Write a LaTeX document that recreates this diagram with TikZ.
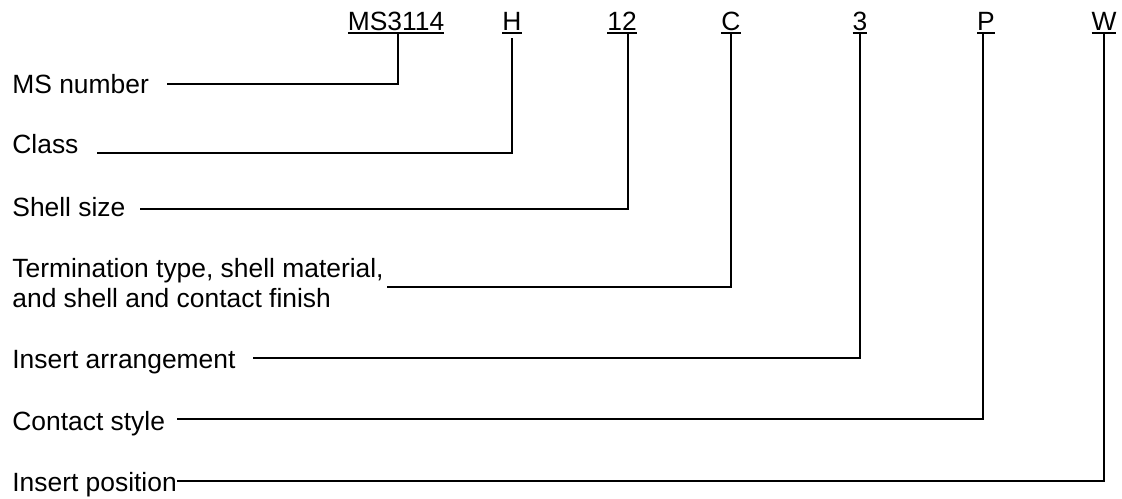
\documentclass[tikz,border=0pt]{standalone}
\usepackage{fontspec}
\setmainfont{Liberation Sans}
\newcommand{\ucode}[1]{\setbox0=\hbox{#1}\rlap{\copy0}\rule[-2pt]{\wd0}{1pt}}

\begin{document}
\begin{tikzpicture}[x=0.5pt, y=-0.5pt,
    every node/.style={font=\fontsize{13.2}{15}\selectfont, inner sep=0pt},
    code/.style={anchor=base},
    part/.style={anchor=base west, align=left},
    lead/.style={line width=1pt}]
    \useasboundingbox (0,0) rectangle (1122,498);

    % the part number
    \node[code] (ms) at (396,30) {\ucode{MS3114}};
    \node[code] (cls) at (512,30) {\ucode{H}};
    \node[code] (size) at (622,30) {\ucode{12}};
    \node[code] (fin) at (731,30) {\ucode{C}};
    \node[code] (arr) at (860,30) {\ucode{3}};
    \node[code] (cont) at (986,30) {\ucode{P}};
    \node[code] (pos) at (1104,30) {\ucode{W}};

    % what each part means
    \node[part] (msnum) at (12,93) {MS number};
    \node[part] (class) at (12,153) {Class};
    \node[part] (shell) at (12,216) {Shell size};
    \node[part] (term) at (12,307) {Termination type, shell material,\\and shell and contact finish};
    \node[part] (insarr) at (12,368) {Insert arrangement};
    \node[part] (cstyle) at (12,430) {Contact style};
    \node[part] (inspos) at (12,491) {Insert position};

    % leaders
    \draw[lead] ([xshift=1pt]ms.south) |- ([xshift=9pt,yshift=4.5pt]msnum.base east);
    \draw[lead] ([yshift=-2pt]cls.south) |- ([xshift=9pt]class.base east);
    \draw[lead] ([xshift=3pt]size.south) |- ([xshift=7pt,yshift=3.5pt]shell.base east);
    \draw[lead] (fin.south) |- ([xshift=1.5pt,yshift=10pt]term.base east);
    \draw[lead] (arr.south) |- ([xshift=8.5pt,yshift=5pt]insarr.base east);
    \draw[lead] ([xshift=-1.5pt]cont.south) |- ([xshift=6pt,yshift=5.5pt]cstyle.base east);
    \draw[lead] (pos.south) |- ([yshift=5pt]inspos.base east);
\end{tikzpicture}
\end{document}
